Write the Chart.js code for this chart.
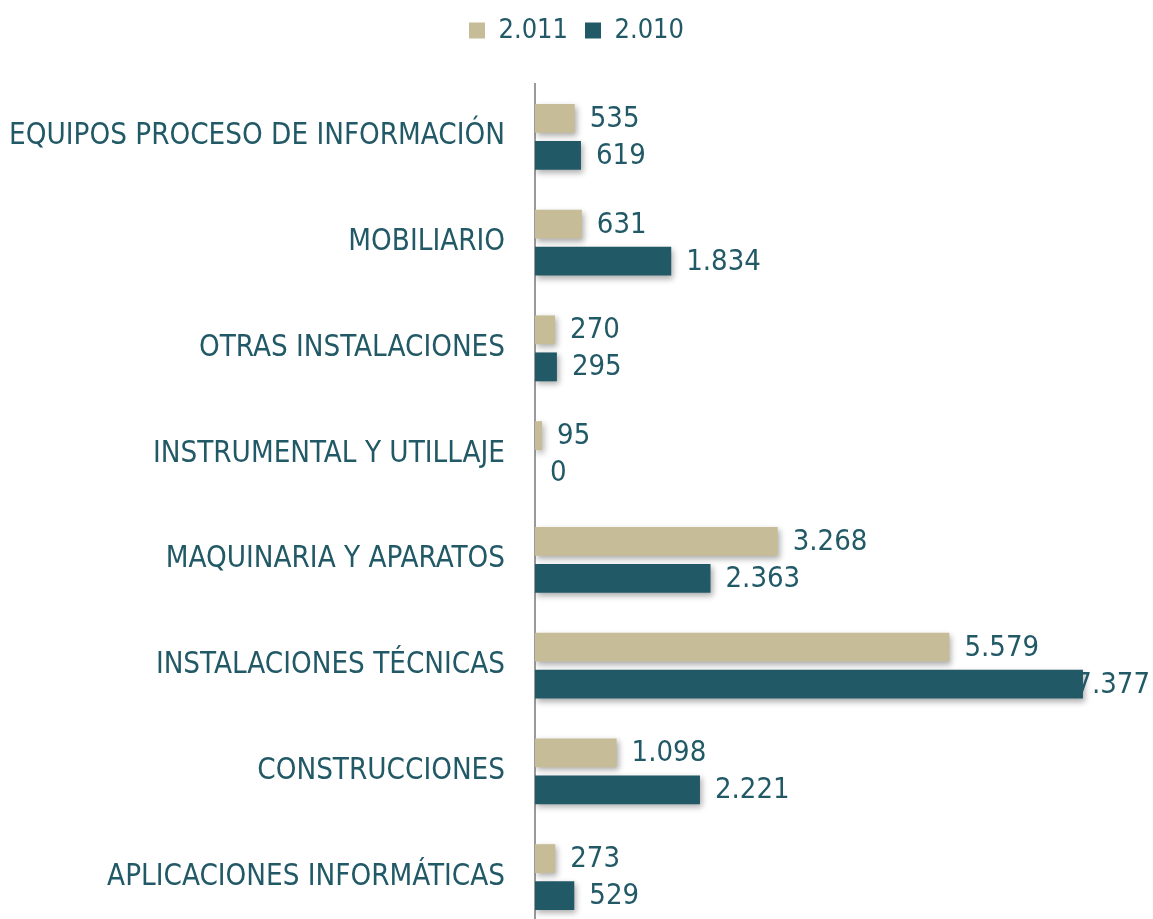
<!DOCTYPE html>
<html>
<head>
<meta charset="utf-8">
<script src="https://cdn.jsdelivr.net/npm/chart.js@4"></script>
<style>
  html, body { margin: 0; padding: 0; background: #fff; overflow: hidden; }
  #wrap { width: 1153px; height: 930px; position: relative; }
</style>
</head>
<body>
<div id="wrap"><canvas id="chart"></canvas></div>
<script>
// categorías (de arriba a abajo)
const categories = [
    'EQUIPOS PROCESO DE INFORMACIÓN',
    'MOBILIARIO',
    'OTRAS INSTALACIONES',
    'INSTRUMENTAL Y UTILLAJE',
    'MAQUINARIA Y APARATOS',
    'INSTALACIONES TÉCNICAS',
    'CONSTRUCCIONES',
    'APLICACIONES INFORMÁTICAS'
];
const seriesNames = ['2.011', '2.010'];
const values2011 = [535, 631, 270, 95, 3268, 5579, 1098, 273];
const values2010 = [619, 1834, 295, 0, 2363, 7377, 2221, 529];
const xMax = 8320; // deja sitio a la derecha para las etiquetas

const BEIGE = '#c6bd98';
const TEAL = '#225966';
const FONT = '"Liberation Sans Narrow", "Arial Narrow", "DejaVu Sans Condensed", sans-serif';

// 1234 -> 1.234
function fmt(v) {
    return String(v).replace(/\B(?=(\d{3})+(?!\d))/g, '.');
}

// sombra suave bajo las barras
const barShadow = {
    id: 'barShadow',
    beforeDatasetDraw(chart) {
        const ctx = chart.ctx;
        ctx.save();
        ctx.shadowColor = 'rgba(0,0,0,0.32)';
        ctx.shadowBlur = 6;
        ctx.shadowOffsetX = 2;
        ctx.shadowOffsetY = 3;
    },
    afterDatasetDraw(chart) {
        chart.ctx.restore();
    }
};

// etiquetas de valor a la derecha de cada barra
const valueLabels = {
    id: 'valueLabels',
    afterDatasetsDraw(chart) {
        const ctx = chart.ctx;
        ctx.save();
        ctx.font = '29px ' + FONT;
        ctx.fillStyle = TEAL;
        ctx.textBaseline = 'middle';
        ctx.textAlign = 'left';
        chart.data.datasets.forEach((ds, i) => {
            chart.getDatasetMeta(i).data.forEach((bar, j) => {
                const txt = fmt(ds.data[j]);
                const w = ctx.measureText(txt).width;
                const x = Math.min(bar.x + 15, chart.width - w - 3);
                ctx.fillText(txt, x, bar.y + 1);
            });
        });
        ctx.restore();
    }
};

new Chart(document.getElementById('chart'), {
    type: 'bar',
    data: {
        labels: categories,
        datasets: [
            { label: seriesNames[0], data: values2011, backgroundColor: BEIGE },
            { label: seriesNames[1], data: values2010, backgroundColor: TEAL }
        ]
    },
    options: {
        indexAxis: 'y',
        responsive: true,
        maintainAspectRatio: false,
        animation: false,
        categoryPercentage: 0.7,
        barPercentage: 0.78,
        layout: { padding: 0 },
        plugins: {
            legend: {
                position: 'top',
                labels: {
                    color: TEAL,
                    font: { family: FONT, size: 27 },
                    boxWidth: 16,
                    boxHeight: 16,
                    padding: 17
                }
            },
            tooltip: { enabled: false }
        },
        scales: {
            x: {
                position: 'top',
                min: 0,
                max: xMax,
                grid: { display: false },
                border: { display: false },
                ticks: { display: false },
                afterFit(scale) {
                    // hueco entre la leyenda y el inicio del eje
                    scale.height = 30;
                }
            },
            y: {
                grid: {
                    display: true,
                    drawOnChartArea: false,
                    drawTicks: true,
                    tickLength: 30,
                    tickColor: 'rgba(0,0,0,0)'
                },
                border: { display: true, color: '#9a9a9a', width: 2 },
                ticks: {
                    color: TEAL,
                    font: { family: FONT, size: 29.3 },
                    padding: 0
                },
                afterFit(scale) {
                    scale.width = 535;
                    scale.paddingTop = 0;
                    scale.paddingBottom = 0;
                }
            }
        }
    },
    plugins: [barShadow, valueLabels]
});
</script>
</body>
</html>
